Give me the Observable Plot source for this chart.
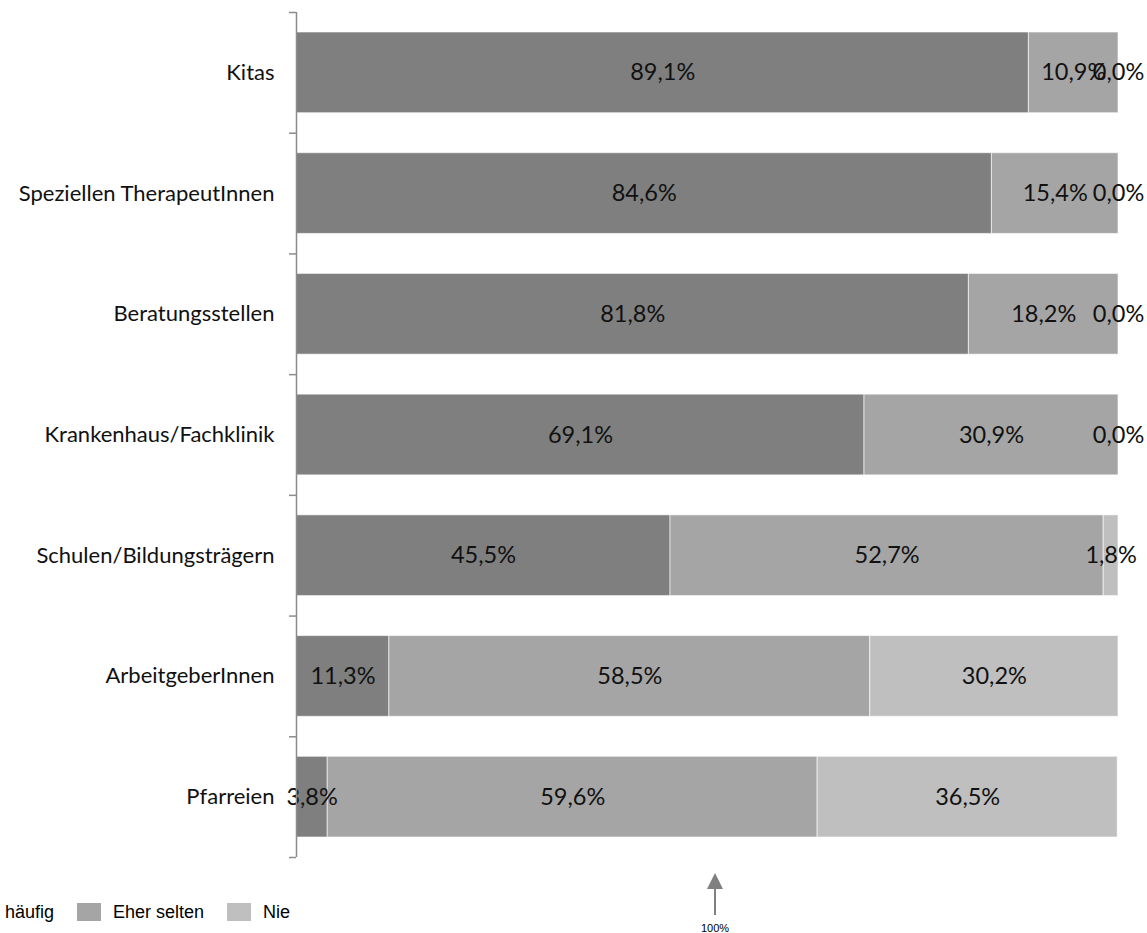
<!DOCTYPE html>
<html><head><meta charset="utf-8">
<script src="https://cdn.jsdelivr.net/npm/d3@7"></script>
<script src="https://cdn.jsdelivr.net/npm/@observablehq/plot@0.6"></script>
<style>
body{margin:0;background:#fff;overflow:hidden}
#wrap{position:relative;width:1147px;height:933px;overflow:hidden}
#legend{position:absolute;left:-31px;top:903px;display:flex;align-items:center;font-family:"Liberation Sans",Arial,sans-serif;font-size:18px;color:#000;line-height:18px;white-space:nowrap}
.item{display:flex;align-items:center;margin-right:23px}
.sw{width:24px;height:18px;margin-right:12px}
#note{position:absolute;left:695px;top:868px}
</style></head><body><div id="wrap"><div id="chart"></div><div id="legend"></div><div id="note"></div></div>
<script>
const categories = ["Kitas","Speziellen TherapeutInnen","Beratungsstellen","Krankenhaus/Fachklinik","Schulen/Bildungsträgern","ArbeitgeberInnen","Pfarreien"];
const series = ["häufig","Eher selten","Nie"];
const haeufig = [89.1,84.6,81.8,69.1,45.5,11.3,3.8];
const eherSelten = [10.9,15.4,18.2,30.9,52.7,58.5,59.6];
const nie = [0.0,0.0,0.0,0.0,1.8,30.2,36.5];
const colors = ["#7f7f7f","#a5a5a5","#bfbfbf"];
const noteLabel = "100%";

const valuesBySeries = [haeufig, eherSelten, nie];
const rows = [];
categories.forEach((cat, i) => {
  series.forEach((s, k) => {
    rows.push({cat, i, i1: i + 1, ym: i + 0.5, series: s, value: valuesBySeries[k][i]});
  });
});
const fmt = v => v.toFixed(1).replace(".", ",") + "%";

const chart = Plot.plot({
  width: 1147, height: 933,
  marginLeft: 296, marginRight: 29, marginTop: 12, marginBottom: 76,
  x: {domain: [0, 100], axis: null},
  y: {domain: [0, categories.length], reverse: true, axis: null},
  color: {domain: series, range: colors},
  style: {fontFamily: "Lato, sans-serif", background: "#fff"},
  marks: [
    Plot.rectX(rows, {x: "value", y1: "i", y2: "i1", fill: "series", insetTop: 20, insetBottom: 20, stroke: "#fff", strokeWidth: 1, strokeOpacity: 0.6}),
    Plot.text(rows, Plot.stackX({x: "value", y: "ym", text: d => fmt(d.value), fontSize: 23.5, fill: "#111"})),
    Plot.axisY({ticks: d3.range(categories.length + 1), tickSize: 7, tickFormat: () => "", stroke: "#8c8c8c", strokeWidth: 1.5}),
    Plot.axisY({ticks: categories.map((c, i) => i + 0.5), tickSize: 0, tickPadding: 22, tickFormat: v => categories[Math.floor(v)], fontSize: 22, fill: "#111"}),
    Plot.ruleX([0], {y1: 0, y2: categories.length, stroke: "#8c8c8c", strokeWidth: 1.5})
  ]
});
document.getElementById("chart").appendChild(chart);

const legend = document.getElementById("legend");
series.forEach((s, k) => {
  const item = document.createElement("div");
  item.className = "item";
  const sw = document.createElement("div");
  sw.className = "sw";
  sw.style.background = colors[k];
  const lab = document.createElement("span");
  lab.textContent = s;
  item.appendChild(sw); item.appendChild(lab);
  legend.appendChild(item);
});

document.getElementById("note").innerHTML =
  `<svg width="40" height="70" style="overflow:visible">
     <path d="M20,5 L28,21 L12,21 Z" fill="#808080"/>
     <line x1="20" y1="20" x2="20" y2="47" stroke="#808080" stroke-width="2"/>
     <text x="20" y="64" text-anchor="middle" font-family="Liberation Sans, Arial, sans-serif" font-size="11" style="fill:#000">${noteLabel}</text>
   </svg>`;
</script>
</body></html>
